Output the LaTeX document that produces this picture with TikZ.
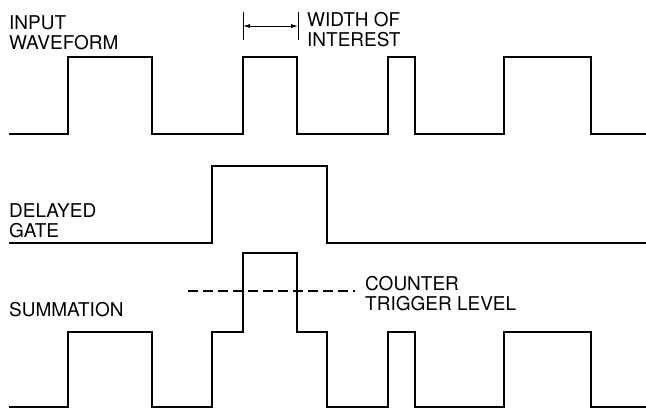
\documentclass[tikz,border=0pt]{standalone}
\usepackage{fontspec}
\setmainfont{TeX Gyre Heros}
\usetikzlibrary{arrows.meta}

\begin{document}
\begin{tikzpicture}[x=1pt, y=-1pt, >={Latex[length=7pt, width=4pt]},
	every node/.style={font=\fontsize{19}{20}\selectfont, inner sep=0pt, anchor=north west, align=left},
	wave/.style={line width=2pt}]
	\useasboundingbox (0,0) rectangle (646,413);
	% input waveform
	\node (inlbl) at (9,15) {INPUT\\WAVEFORM};
	\draw[wave] (9,134) -| (68,57) -| (152,134) -| (243,57) -| (297,134) -| (388,57) -| (415,134) -| (504,57) -| (591,134) -- (646,134);
	% width of interest
	\coordinate (wa) at (243,26);
	\coordinate (wb) at (298,26);
	\draw[line width=0.8pt] (243,12) -- (243,40) (298,12) -- (298,40);
	\draw[<->, line width=0.8pt] (wa) -- (wb);
	\node (wlbl) at (307,12) {WIDTH OF\\INTEREST};
	% delayed gate
	\node (glbl) at (9,203) {DELAYED\\GATE};
	\draw[wave] (9,243) -| (212,166) -| (327,243) -- (646,243);
	% summation
	\node (slbl) at (9,302) {SUMMATION};
	\draw[wave] (9,407) -| (68,332) -| (152,407) -| (212,332) -| (243,253) -| (297,332) -| (327,407) -| (388,332) -| (415,407) -| (504,332) -| (591,407) -- (646,407);
	% trigger level
	\node (clbl) at (365,276) {COUNTER\\TRIGGER LEVEL};
	\coordinate (ta) at (188,291);
	\coordinate (tb) at (355,291);
	\draw[line width=1.6pt, dash pattern=on 10pt off 5pt] (ta) -- (tb);
\end{tikzpicture}
\end{document}
